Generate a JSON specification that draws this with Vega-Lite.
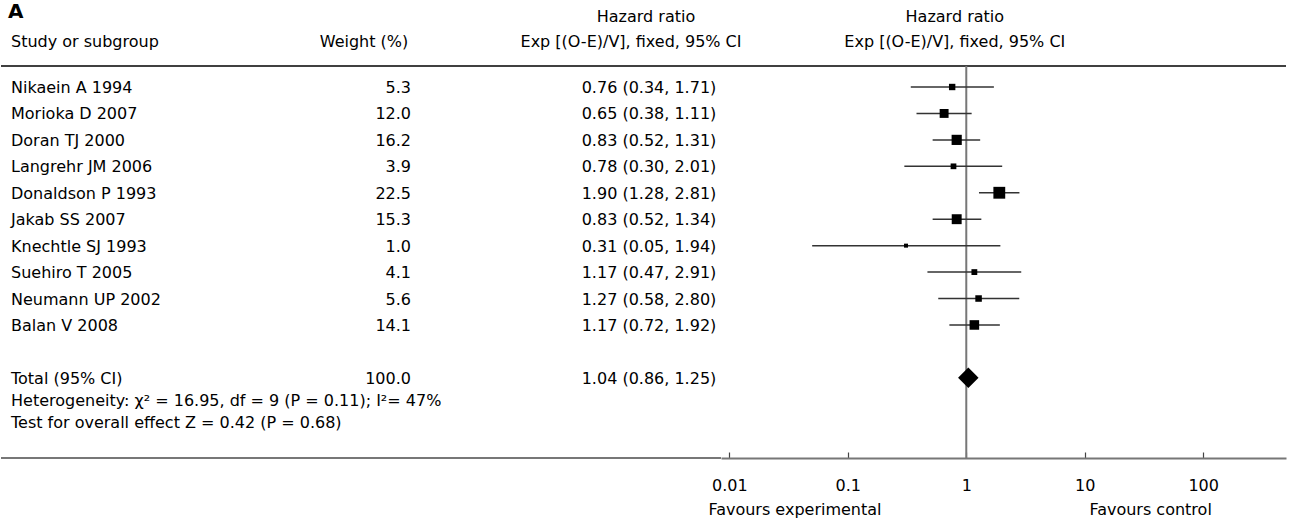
{
  "$schema": "https://vega.github.io/schema/vega-lite/v6.json",
  "padding": 0,
  "background": "white",
  "spacing": 0,
  "bounds": "flush",
  "config": {
    "view": {"stroke": null},
    "font": "DejaVu Sans",
    "text": {"fontSize": 16, "color": "black"}
  },
  "datasets": {
    "studies": [
      {"row": 1, "kind": "study", "study": "Nikaein A 1994", "weight": 5.3, "hr": 0.76, "lo": 0.34, "hi": 1.71, "hr_text": "0.76 (0.34, 1.71)"},
      {"row": 2, "kind": "study", "study": "Morioka D 2007", "weight": 12.0, "hr": 0.65, "lo": 0.38, "hi": 1.11, "hr_text": "0.65 (0.38, 1.11)"},
      {"row": 3, "kind": "study", "study": "Doran TJ 2000", "weight": 16.2, "hr": 0.83, "lo": 0.52, "hi": 1.31, "hr_text": "0.83 (0.52, 1.31)"},
      {"row": 4, "kind": "study", "study": "Langrehr JM 2006", "weight": 3.9, "hr": 0.78, "lo": 0.30, "hi": 2.01, "hr_text": "0.78 (0.30, 2.01)"},
      {"row": 5, "kind": "study", "study": "Donaldson P 1993", "weight": 22.5, "hr": 1.90, "lo": 1.28, "hi": 2.81, "hr_text": "1.90 (1.28, 2.81)"},
      {"row": 6, "kind": "study", "study": "Jakab SS 2007", "weight": 15.3, "hr": 0.83, "lo": 0.52, "hi": 1.34, "hr_text": "0.83 (0.52, 1.34)"},
      {"row": 7, "kind": "study", "study": "Knechtle SJ 1993", "weight": 1.0, "hr": 0.31, "lo": 0.05, "hi": 1.94, "hr_text": "0.31 (0.05, 1.94)"},
      {"row": 8, "kind": "study", "study": "Suehiro T 2005", "weight": 4.1, "hr": 1.17, "lo": 0.47, "hi": 2.91, "hr_text": "1.17 (0.47, 2.91)"},
      {"row": 9, "kind": "study", "study": "Neumann UP 2002", "weight": 5.6, "hr": 1.27, "lo": 0.58, "hi": 2.80, "hr_text": "1.27 (0.58, 2.80)"},
      {"row": 10, "kind": "study", "study": "Balan V 2008", "weight": 14.1, "hr": 1.17, "lo": 0.72, "hi": 1.92, "hr_text": "1.17 (0.72, 1.92)"},
      {"row": 12, "kind": "total", "study": "Total (95% CI)", "weight": 100.0, "hr": 1.04, "lo": 0.86, "hi": 1.25, "hr_text": "1.04 (0.86, 1.25)"},
      {"row": 13, "kind": "note", "study": ["Heterogeneity: χ² = 16.95, df = 9 (P = 0.11); I²= 47%", "Test for overall effect Z = 0.42 (P = 0.68)"]}
    ]
  },
  "hconcat": [
    {
      "width": 720,
      "height": 458,
      "layer": [
        {
          "data": {"name": "studies"},
          "transform": [{"filter": "datum.kind !== 'note'"}],
          "mark": {"type": "text", "align": "left", "baseline": "middle", "dy": 1},
          "encoding": {
            "x": {"value": 10},
            "y": {"field": "row", "type": "quantitative", "scale": {"domain": [-2.2905, 15.032], "reverse": true, "nice": false, "zero": false}, "axis": null},
            "text": {"field": "study"}
          }
        },
        {
          "data": {"name": "studies"},
          "transform": [{"filter": "datum.kind === 'note'"}],
          "mark": {"type": "text", "align": "left", "baseline": "middle", "lineHeight": 22, "dy": -3},
          "encoding": {
            "x": {"value": 10},
            "y": {"field": "row", "type": "quantitative"},
            "text": {"field": "study"}
          }
        },
        {
          "data": {"name": "studies"},
          "transform": [{"filter": "datum.kind !== 'note'"}],
          "mark": {"type": "text", "align": "right", "baseline": "middle", "dy": 1},
          "encoding": {
            "x": {"value": 410},
            "y": {"field": "row", "type": "quantitative"},
            "text": {"field": "weight", "format": ".1f"}
          }
        },
        {
          "data": {"name": "studies"},
          "transform": [{"filter": "datum.kind !== 'note'"}],
          "mark": {"type": "text", "align": "center", "baseline": "middle", "dy": 1},
          "encoding": {
            "x": {"value": 648},
            "y": {"field": "row", "type": "quantitative"},
            "text": {"field": "hr_text"}
          }
        },
        {
          "data": {"values": [{"label": "A"}]},
          "mark": {"type": "text", "align": "left", "baseline": "middle", "fontSize": 20, "fontWeight": "bold"},
          "encoding": {
            "x": {"value": 7},
            "y": {"datum": -1.836, "type": "quantitative"},
            "text": {"field": "label"}
          }
        },
        {
          "data": {"values": [{"label": "Study or subgroup"}]},
          "mark": {"type": "text", "align": "left", "baseline": "middle"},
          "encoding": {
            "x": {"value": 10},
            "y": {"datum": -0.702, "type": "quantitative"},
            "text": {"field": "label"}
          }
        },
        {
          "data": {"values": [{"label": "Weight (%)"}]},
          "mark": {"type": "text", "align": "center", "baseline": "middle"},
          "encoding": {
            "x": {"value": 363},
            "y": {"datum": -0.702, "type": "quantitative"},
            "text": {"field": "label"}
          }
        },
        {
          "data": {"values": [{"label": "Hazard ratio"}]},
          "mark": {"type": "text", "align": "center", "baseline": "middle"},
          "encoding": {
            "x": {"value": 645},
            "y": {"datum": -1.6475, "type": "quantitative"},
            "text": {"field": "label"}
          }
        },
        {
          "data": {"values": [{"label": "Exp [(O-E)/V], fixed, 95% CI"}]},
          "mark": {"type": "text", "align": "center", "baseline": "middle"},
          "encoding": {
            "x": {"value": 630},
            "y": {"datum": -0.702, "type": "quantitative"},
            "text": {"field": "label"}
          }
        },
        {
          "data": {"values": [{"line": "top"}]},
          "mark": {"type": "rule", "color": "black", "strokeWidth": 1.5},
          "encoding": {"y": {"datum": 0.2058, "type": "quantitative"}}
        },
        {
          "data": {"values": [{"line": "bottom"}]},
          "mark": {"type": "rule", "color": "#777777", "strokeWidth": 2},
          "encoding": {"y": {"datum": 15.032, "type": "quantitative"}}
        }
      ]
    },
    {
      "width": 565,
      "height": 458,
      "layer": [
        {
          "data": {"values": [{"line": "top"}]},
          "mark": {"type": "rule", "color": "black", "strokeWidth": 1.5},
          "encoding": {"y": {"datum": 0.2058, "type": "quantitative", "scale": {"domain": [-2.2905, 15.032], "reverse": true, "nice": false, "zero": false}, "axis": null}}
        },
        {
          "data": {"values": [{"line": "null"}]},
          "mark": {"type": "rule", "color": "#777777", "strokeWidth": 2},
          "encoding": {
            "x": {"datum": 1, "type": "quantitative", "scale": {"type": "log", "domain": [0.0085, 500], "nice": false},
              "axis": {"orient": "bottom", "values": [0.01, 0.1, 1, 10, 100], "format": "~g", "title": null, "grid": false,
                "domainColor": "#777777", "domainWidth": 2, "tickColor": "#444444", "tickSize": -6, "tickWidth": 1.2,
                "labelFontSize": 16, "labelColor": "black", "labelPadding": 25, "labelFont": "DejaVu Sans"}},
            "y": {"datum": 0.2058, "type": "quantitative"},
            "y2": {"datum": 15.032}
          }
        },
        {
          "data": {"name": "studies"},
          "transform": [{"filter": "datum.kind === 'study'"}],
          "mark": {"type": "rule", "color": "#333333", "strokeWidth": 1.5},
          "encoding": {
            "x": {"field": "lo", "type": "quantitative"},
            "x2": {"field": "hi"},
            "y": {"field": "row", "type": "quantitative"}
          }
        },
        {
          "data": {"name": "studies"},
          "transform": [{"filter": "datum.kind === 'study'"}],
          "mark": {"type": "square", "filled": true, "color": "black", "opacity": 1},
          "encoding": {
            "x": {"field": "hr", "type": "quantitative"},
            "y": {"field": "row", "type": "quantitative"},
            "size": {"field": "weight", "type": "quantitative", "scale": {"domain": [1, 22.5], "range": [16, 140], "zero": false}, "legend": null}
          }
        },
        {
          "data": {"name": "studies"},
          "transform": [{"filter": "datum.kind === 'total'"}],
          "mark": {"type": "point", "shape": "diamond", "filled": true, "color": "black", "opacity": 1, "size": 420},
          "encoding": {
            "x": {"field": "hr", "type": "quantitative"},
            "y": {"field": "row", "type": "quantitative"}
          }
        },
        {
          "data": {"values": [{"label": "Hazard ratio"}]},
          "mark": {"type": "text", "align": "center", "baseline": "middle"},
          "encoding": {
            "x": {"datum": 0.8, "type": "quantitative"},
            "y": {"datum": -1.6475, "type": "quantitative"},
            "text": {"field": "label"}
          }
        },
        {
          "data": {"values": [{"label": "Exp [(O-E)/V], fixed, 95% CI"}]},
          "mark": {"type": "text", "align": "center", "baseline": "middle"},
          "encoding": {
            "x": {"datum": 0.8, "type": "quantitative"},
            "y": {"datum": -0.702, "type": "quantitative"},
            "text": {"field": "label"}
          }
        },
        {
          "data": {"values": [{"label": "Favours experimental"}]},
          "mark": {"type": "text", "align": "center", "baseline": "middle"},
          "encoding": {
            "x": {"datum": 0.0358, "type": "quantitative"},
            "y": {"datum": 16.998, "type": "quantitative"},
            "text": {"field": "label"}
          }
        },
        {
          "data": {"values": [{"label": "Favours control"}]},
          "mark": {"type": "text", "align": "center", "baseline": "middle"},
          "encoding": {
            "x": {"datum": 36, "type": "quantitative"},
            "y": {"datum": 16.998, "type": "quantitative"},
            "text": {"field": "label"}
          }
        }
      ]
    }
  ]
}
